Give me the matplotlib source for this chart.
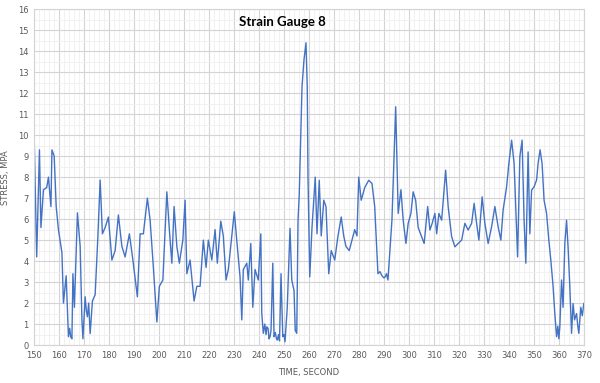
import numpy as np
import matplotlib.pyplot as plt
from matplotlib.ticker import MultipleLocator

# values (time in s, stress in MPa)
time_s = [150, 151, 152.1, 152.7, 153.7, 155, 155.7, 156.7, 157.1, 158, 158.8, 159.7,
          161.1, 161.7, 162.8, 163.7, 164.2, 164.6, 165.1, 165.5, 166.1, 167.3, 168.4,
          169.1, 169.5, 170.4, 170.9, 171.3, 171.8, 172.4, 173.3, 174.4, 175.5, 176.4,
          177.3, 178.4, 179.7, 181.1, 182.4, 183.7, 185.1, 186.4, 188.1, 189.5, 191.3,
          192.4, 193.7, 195.3, 196.4, 197.7, 199.1, 200.1, 201.5, 203.1, 204.1, 205.1,
          206, 207.1, 208.1, 209.5, 210.4, 211.1, 212.4, 214, 215.1, 216.4, 217.7,
          218.8, 219.7, 221.1, 222.4, 223.3, 224.7, 225.7, 226.8, 227.7, 229.1, 230.1,
          231.3, 232.4, 233.1, 233.7, 235.1, 235.7, 236.7, 237.5, 238.4, 239.7, 240.7,
          241.1, 241.7, 242.3, 242.8, 243.1, 243.6, 244.0, 244.4, 244.8, 245.5, 246,
          246.5, 247.0, 247.3, 247.8, 248.2, 248.8, 249.5, 250.0, 250.4, 251.3, 252.4,
          253.1, 254, 254.5, 255.1, 255.6, 256.1, 257.2, 258, 258.8, 259.3, 259.6,
          260.3, 261.2, 262.5, 263.2, 264.1, 264.9, 265.9, 266.8, 267.9, 268.9, 270.3,
          271.6, 272.9, 273.9, 274.8, 276.1, 277.2, 278.3, 279.2, 279.9, 280.9, 282.3,
          283.9, 285.2, 286.3, 287.6, 288.4, 289.2, 290.0, 290.5, 291.0, 291.6, 293.2,
          294.7, 295.7, 296.8, 297.7, 298.8, 299.7, 300.8, 301.7, 302.7, 303.7, 305.1,
          306.1, 307.5, 308.4, 309.3, 310.4, 311.1, 312, 313.1, 314.7, 315.7, 317.1,
          318.4, 319.7, 321.1, 322.4, 323.7, 325.1, 326.1, 327.1, 328, 329.3, 330.4,
          331.7, 333.1, 334.4, 335.7, 336.8, 337.7, 339.1, 340, 341.1, 342.1, 343.5,
          344.4, 345.3, 346.1, 346.8, 347.7, 348.4, 349.1, 350.1, 351.1, 351.7, 352.5,
          353.3, 354.1, 355.1, 356, 356.8, 357.7, 358.4, 359.1, 359.6, 360.0, 360.4,
          361.1, 361.7, 362.4, 363.1, 363.7, 364.4, 365.1, 365.7, 366.3, 367.1, 367.6,
          368, 368.8, 369.4, 370]
stress = [9.84, 4.2, 9.3, 5.6, 7.4, 7.5, 8.0, 6.6, 9.3, 9.0, 6.6, 5.5,
          4.4, 2.0, 3.3, 0.4, 0.8, 0.4, 0.3, 3.4, 1.8, 6.3, 4.7,
          1.2, 0.3, 2.3, 1.6, 1.35, 2.0, 0.55, 2.1, 2.4, 5.2, 7.86,
          5.3, 5.6, 6.1, 4.05, 4.5, 6.2, 4.7, 4.2, 5.3, 4.05, 2.3,
          5.3, 5.3, 7.0, 5.95, 3.7, 1.1, 2.8, 3.1, 7.3, 5.5, 3.9,
          6.6, 4.7, 3.9, 5.0, 6.9, 3.4, 4.05, 2.1, 2.8, 2.8, 5.0,
          3.7, 5.0, 4.05, 5.5, 3.9, 5.9, 5.2, 3.1, 3.6, 5.2, 6.35,
          4.7, 3.25, 1.2, 3.6, 3.9, 3.1, 4.84, 1.8, 3.6, 3.1, 5.3,
          1.5, 0.56, 1.0, 0.5, 0.87, 0.8, 0.3, 0.4, 0.7, 3.9, 0.4,
          0.6, 0.3, 0.24, 0.5, 0.2, 3.4, 0.4, 0.5, 0.16, 1.8, 5.56,
          3.1, 2.6, 0.7, 0.56, 5.9, 7.2, 12.3, 13.6, 14.4, 12.3, 8.0,
          3.25, 5.6, 8.0, 5.3, 7.85, 5.2, 6.9, 6.6, 3.4, 4.5, 4.05,
          5.2, 6.1, 5.2, 4.7, 4.5, 5.0, 5.5, 5.2, 8.0, 6.9, 7.5,
          7.85, 7.7, 6.6, 3.4, 3.5, 3.3, 3.2, 3.25, 3.4, 3.1, 5.95,
          11.35, 6.27, 7.4, 5.95, 4.84, 5.8, 6.27, 7.3, 6.9, 5.6, 5.16,
          4.84, 6.6, 5.48, 5.8, 6.27, 5.3, 6.27, 5.95, 8.33, 6.6, 5.16,
          4.68, 4.84, 5.0, 5.8, 5.48, 5.8, 6.75, 5.8, 5.0, 7.06, 5.8,
          4.84, 5.64, 6.6, 5.64, 5.0, 6.43, 7.54, 8.65, 9.76, 8.65, 4.2,
          8.97, 9.76, 5.95, 3.9, 9.2, 5.3, 7.38, 7.54, 7.86, 8.65, 9.3,
          8.65, 6.9, 6.27, 5.0, 4.05, 2.8, 1.5, 0.4, 0.9, 0.3, 0.87,
          3.1, 1.8, 4.84, 5.95, 4.68, 2.8, 0.56, 1.98, 1.2, 1.5, 0.9,
          0.56, 1.8, 1.4, 1.98]

fig = plt.figure(figsize=(6, 3.83), dpi=100)
ax = fig.add_axes([0.057, 0.099, 0.916, 0.877])

ax.plot(time_s, stress, color='#4472C4', lw=1.0)

ax.set_xlim(150, 370)
ax.set_ylim(0, 16)
ax.xaxis.set_major_locator(MultipleLocator(10))
ax.yaxis.set_major_locator(MultipleLocator(1))
ax.xaxis.set_minor_locator(MultipleLocator(2))
ax.yaxis.set_minor_locator(MultipleLocator(0.5))
ax.grid(which='major', color='#d4d4d4', lw=0.8)
ax.grid(which='minor', color='#efefef', lw=0.6)
ax.set_axisbelow(True)
ax.tick_params(which='both', length=0, labelsize=6, colors='#595959', pad=4)
for s in ax.spines.values():
    s.set_color('#d4d4d4')

ax.set_ylabel('STRESS, MPA', fontsize=6, color='#595959', labelpad=6)
ax.set_xlabel('TIME, SECOND', fontsize=6, color='#595959', labelpad=6)
fig.text(0.47, 0.943, 'Strain Gauge 8', ha='center', va='center',
         fontsize=9.5, fontweight='bold', family='Lato')

fig.savefig('out.png')
